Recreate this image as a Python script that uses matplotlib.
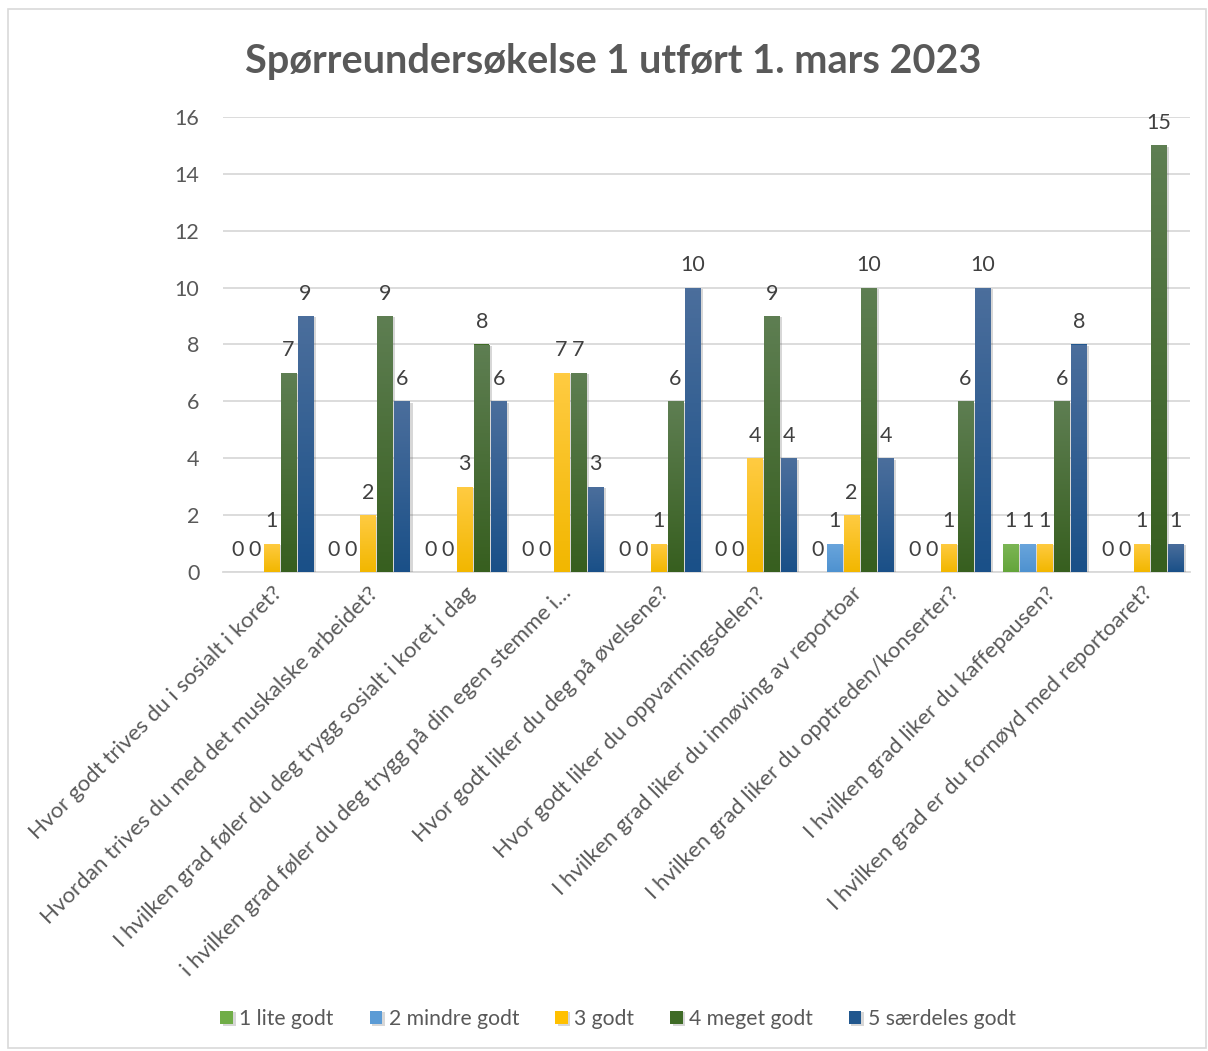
import numpy as np
import matplotlib
matplotlib.use("Agg")
import matplotlib.pyplot as plt
from matplotlib.colors import LinearSegmentedColormap
from matplotlib.patches import Rectangle
import matplotlib.patheffects as pe

plt.rcParams['font.family'] = ['Lato', 'DejaVu Sans']

title = "Spørreundersøkelse 1 utført 1. mars 2023"
categories = [
    "Hvor godt trives du i sosialt i koret?",
    "Hvordan trives du med det muskalske arbeidet?",
    "I hvilken grad føler du deg trygg sosialt i koret i dag",
    "i hvilken grad føler du deg trygg på din egen stemme i…",
    "Hvor godt liker du deg på øvelsene?",
    "Hvor godt liker du oppvarmingsdelen?",
    "I hvilken grad liker du innøving av reportoar",
    "I hvilken grad liker du opptreden/konserter?",
    "I hvilken grad liker du kaffepausen?",
    "I hvilken grad er du fornøyd med reportoaret?",
]
series_names = ["1 lite godt", "2 mindre godt", "3 godt", "4 meget godt", "5 særdeles godt"]
s1 = [0, 0, 0, 0, 0, 0, 0, 0, 1, 0]
s2 = [0, 0, 0, 0, 0, 0, 1, 0, 1, 0]
s3 = [1, 2, 3, 7, 1, 4, 2, 1, 1, 1]
s4 = [7, 9, 8, 7, 6, 9, 10, 6, 6, 15]
s5 = [9, 6, 6, 3, 10, 4, 4, 10, 8, 1]
series = [s1, s2, s3, s4, s5]
yticks = [0, 2, 4, 6, 8, 10, 12, 14, 16]

base_colors = ["#70AD47", "#5B9BD5", "#FFC000", "#3F6B26", "#21578E"]
grad_colors = [("#64A53A", "#7CB656"), ("#4E92D0", "#6AA5DC"), ("#F2B700", "#FFCB42"),
               ("#375F1F", "#5E7E52"), ("#1A5088", "#4B6E9C")]

W, H = 1208, 1051
fig = plt.figure(figsize=(W / 100, H / 100), dpi=100)
fig.patch.set_facecolor("white")
fig.add_artist(Rectangle((8 / W, 3 / H), 1 - 10 / W, 1 - 12 / H, transform=fig.transFigure,
                         fill=False, edgecolor="#D9D9D9", linewidth=1.2))

ax = fig.add_axes([223 / W, 1 - 572 / H, 967 / W, 455 / H])
n = len(categories)
x = np.arange(n)
step = 0.176
bw = 0.158
text_col = "#595959"
fs = 15.5

grad = np.linspace(0, 1, 64).reshape(-1, 1)
for i, (vals, name) in enumerate(zip(series, series_names)):
    xs = x + (i - 2) * step
    bars = ax.bar(xs, vals, width=bw, color=base_colors[i], label=name, zorder=3,
                  path_effects=[pe.SimplePatchShadow(offset=(2, -1), alpha=0.25, shadow_rgbFace="#606060"), pe.Normal()])
    cmap = LinearSegmentedColormap.from_list("g%d" % i, list(grad_colors[i]))
    for b, v in zip(bars, vals):
        if v > 0:
            im = ax.imshow(grad, extent=[b.get_x(), b.get_x() + b.get_width(), 0, v],
                           origin="lower", aspect="auto", cmap=cmap, zorder=3.5)
            im.set_clip_path(b)
        ax.annotate(str(v), (b.get_x() + b.get_width() / 2, v), xytext=(0, 9),
                    textcoords="offset points", ha="center", va="bottom",
                    fontsize=fs, color="#404040", zorder=5)

ax.set_xlim(-0.5, n - 0.5)
ax.set_ylim(0, 16)
ax.set_yticks(yticks)
ax.set_yticklabels([str(t) for t in yticks], fontsize=fs, color=text_col)
ax.set_xticks(x)
ax.set_xticklabels(categories, rotation=45, ha="right", va="top", rotation_mode="anchor",
                   fontsize=16, color=text_col)
ax.tick_params(axis="both", length=0)
ax.tick_params(axis="y", pad=17)
ax.tick_params(axis="x", pad=8)
ax.grid(axis="y", color="#D9D9D9", linewidth=1.3, zorder=0)
ax.set_axisbelow(True)
for sp in ["top", "right", "left"]:
    ax.spines[sp].set_visible(False)
ax.spines["bottom"].set_color("#D9D9D9")
ax.spines["bottom"].set_linewidth(1.3)

fig.text(613 / W, 1 - 62 / H, title, ha="center", va="center", fontsize=28.5,
         fontweight="bold", color=text_col)

handles, labels = ax.get_legend_handles_labels()
fig.legend(handles, labels, loc="center", bbox_to_anchor=(618 / W, 1 - 1019 / H), ncol=5,
           frameon=False, fontsize=15.2, labelcolor=text_col, handlelength=0.6, handleheight=0.6,
           handletextpad=0.3, columnspacing=1.7)

fig.savefig("out.png", dpi=100, facecolor="white")
